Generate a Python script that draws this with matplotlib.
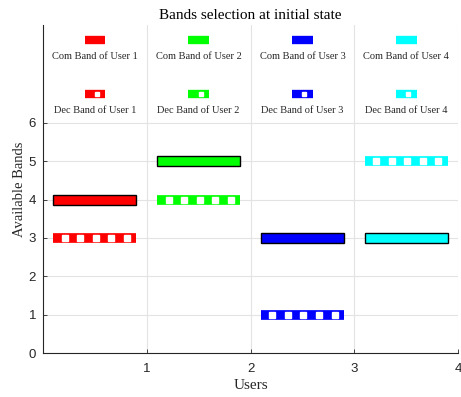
import matplotlib.pyplot as plt
import numpy as np

users = [1, 2, 3, 4]
colors = ['#ff0000', '#00ff00', '#0000ff', '#00ffff']
com_band = [4, 5, 3, 3]
dec_band = [3, 4, 1, 5]
com_labels = ['Com Band of User 1', 'Com Band of User 2', 'Com Band of User 3', 'Com Band of User 4']
dec_labels = ['Dec Band of User 1', 'Dec Band of User 2', 'Dec Band of User 3', 'Dec Band of User 4']

serif = ['Liberation Serif', 'DejaVu Serif']
sans = ['Liberation Sans', 'DejaVu Sans']

fig = plt.figure(figsize=(4.61, 3.97), dpi=100)
ax = fig.add_axes([43 / 461, 44 / 397, 415 / 461, 328 / 397])

ax.set_xlim(0, 4)
ax.set_ylim(0, 8.55)
ax.set_xticks([1, 2, 3, 4])
ax.set_yticks([0, 1, 2, 3, 4, 5, 6])
ax.grid(True, color='#e3e3e3', linewidth=0.8)
ax.set_axisbelow(True)
for s in ['top', 'right']:
    ax.spines[s].set_visible(False)
for s in ['left', 'bottom']:
    ax.spines[s].set_color('#262626')
    ax.spines[s].set_linewidth(0.8)
ax.tick_params(direction='in', length=3, width=0.6, color='#262626', labelsize=9.5,
               labelcolor='#262626')
ax.tick_params(axis='x', pad=7)
ax.tick_params(axis='y', pad=5)
for lab in ax.get_xticklabels() + ax.get_yticklabels():
    lab.set_family(sans)

for i, u in enumerate(users):
    # communication band: outlined bar
    ax.barh(com_band[i], 0.8, left=u - 0.9, height=0.26, color=colors[i],
            edgecolor='black', linewidth=1.0, zorder=3)
    # decision band: thick line with white square markers
    xs = np.array([u - 0.9, u - 0.1])
    ax.plot(xs, [dec_band[i]] * 2, color=colors[i], lw=7, solid_capstyle='butt', zorder=3)
    mk = u - 0.5 + np.array([-0.29, -0.14, 0.01, 0.16, 0.31])
    ax.plot(mk, [dec_band[i]] * len(mk), ls='none', marker='s', ms=3.7,
            mfc='white', mec='white', zorder=4)

    # legend-like labels at top
    cx = u - 0.5
    ax.plot([cx - 0.1, cx + 0.1], [8.15, 8.15], color=colors[i], lw=6, solid_capstyle='butt')
    ax.text(cx, 7.73, com_labels[i], ha='center', va='center', fontsize=7.5, family=serif,
            color='#262626')
    ax.plot([cx - 0.1, cx + 0.1], [6.74, 6.74], color=colors[i], lw=6, solid_capstyle='butt')
    ax.plot([cx + 0.02], [6.74], marker='s', ms=3.5, mfc='white', mec='white', ls='none')
    ax.text(cx, 6.32, dec_labels[i], ha='center', va='center', fontsize=7.5, family=serif,
            color='#262626')

ax.set_title('Bands selection at initial state', fontsize=11, family=serif, pad=4)
ax.set_xlabel('Users', fontsize=11, family=serif, color='#262626', labelpad=3)
ax.set_ylabel('Available Bands', fontsize=10.5, family=serif, color='#262626', labelpad=2)

fig.savefig('out.png', dpi=100)
